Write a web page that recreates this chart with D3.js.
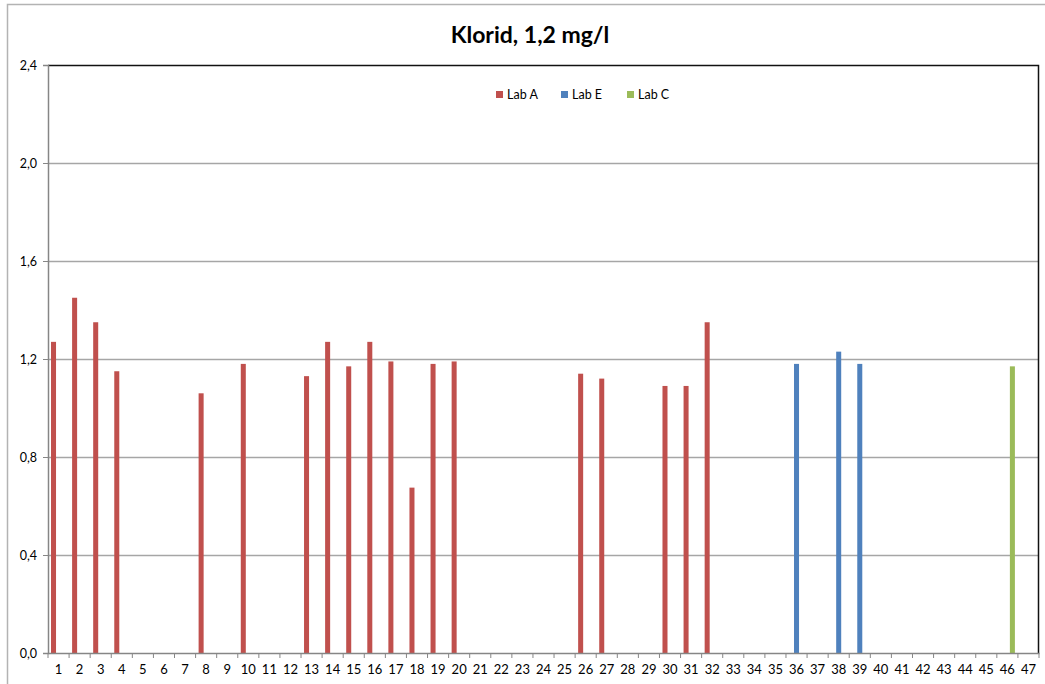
<!DOCTYPE html>
<html>
<head>
<meta charset="utf-8">
<script src="https://cdn.jsdelivr.net/npm/d3@7"></script>
<style>
  body { margin: 0; background: #fff; }
  text { font-family: Lato, "Open Sans", sans-serif; fill: #000; }
</style>
</head>
<body>
<script>
// categories 1..47, one value per lab (null = no bar)
var categories = ["1","2","3","4","5","6","7","8","9","10","11","12","13","14","15","16","17","18","19","20",
  "21","22","23","24","25","26","27","28","29","30","31","32","33","34","35","36","37","38","39","40",
  "41","42","43","44","45","46","47"];
var seriesNames = ["Lab A", "Lab E", "Lab C"];
var seriesColors = ["#C0504D", "#4F81BD", "#9BBB59"];

var labA = [1.27, 1.45, 1.35, 1.15, null, null, null, 1.06, null, 1.18, null, null, 1.13, 1.27, 1.17, 1.27, 1.19, 0.675, 1.18, 1.19,
  null, null, null, null, null, 1.14, 1.12, null, null, 1.09, 1.09, 1.35, null, null, null, null, null, null, null, null,
  null, null, null, null, null, null, null];
var labE = [null, null, null, null, null, null, null, null, null, null, null, null, null, null, null, null, null, null, null, null,
  null, null, null, null, null, null, null, null, null, null, null, null, null, null, null, 1.18, null, 1.23, 1.18, null,
  null, null, null, null, null, null, null];
var labC = [null, null, null, null, null, null, null, null, null, null, null, null, null, null, null, null, null, null, null, null,
  null, null, null, null, null, null, null, null, null, null, null, null, null, null, null, null, null, null, null, null,
  null, null, null, null, null, 1.17, null];
var yTicks = [0, 0.4, 0.8, 1.2, 1.6, 2.0, 2.4];

var width = 1045, height = 684;
var margin = {left: 48, right: 6, top: 65, bottom: 31};
var W = width - margin.left - margin.right,
    H = height - margin.top - margin.bottom;

var svg = d3.select("body").append("svg")
    .attr("width", width)
    .attr("height", height);

// outer chart border (only top/left visible in the picture)
svg.append("rect")
    .attr("x", 7.5).attr("y", 4.5)
    .attr("width", width + 20).attr("height", height + 20)
    .attr("fill", "none")
    .attr("stroke", "#b3b3b3")
    .attr("stroke-width", 1.5);

svg.append("text")
    .attr("x", 530).attr("y", 43)
    .attr("text-anchor", "middle")
    .style("font-size", "23px")
    .style("font-weight", "bold")
    .text("Klorid, 1,2 mg/l");

var g = svg.append("g").attr("transform", "translate(" + margin.left + "," + margin.top + ")");

var x = d3.scaleBand().domain(categories).range([0, W]).paddingInner(0).paddingOuter(0);
var xs = d3.scaleBand().domain(seriesNames).range([0, x.bandwidth()]).paddingInner(0).paddingOuter(0.6);
var y = d3.scaleLinear().domain([0, 2.4]).range([H, 0]);

// gridlines
g.selectAll(".grid")
    .data(yTicks.slice(1, -1))
    .enter().append("line")
    .attr("x1", 0).attr("x2", W)
    .attr("y1", function (d) { return Math.round(y(d)) + 0.5; })
    .attr("y2", function (d) { return Math.round(y(d)) + 0.5; })
    .attr("stroke", "#a6a6a6")
    .attr("stroke-width", 1.5);

// plot area frame top/right
g.append("path")
    .attr("d", "M0,0.5H" + (W - 0.5) + "V" + H)
    .attr("fill", "none")
    .attr("stroke", "#111")
    .attr("stroke-width", 1.5);

// bars
var seriesData = [labA, labE, labC];
seriesData.forEach(function (vals, si) {
    var rows = categories.map(function (c, i) { return {cat: c, v: vals[i]}; })
        .filter(function (d) { return d.v != null; });
    g.append("g").selectAll("rect")
        .data(rows)
        .enter().append("rect")
        .attr("x", function (d) { return x(d.cat) + xs(seriesNames[si]); })
        .attr("width", xs.bandwidth())
        .attr("y", function (d) { return y(d.v); })
        .attr("height", function (d) { return H - y(d.v); })
        .attr("fill", seriesColors[si]);
});

// y axis
var yAxis = g.append("g")
    .call(d3.axisLeft(y).tickValues(yTicks).tickSize(5).tickPadding(6)
        .tickFormat(function (d) { return d3.format(".1f")(d).replace(".", ","); }));
yAxis.select(".domain").attr("stroke", "#868686").attr("stroke-width", 1.5);
yAxis.selectAll(".tick line").attr("stroke", "#868686");
yAxis.selectAll("text").style("font-size", "12.5px").attr("font-family", null);

// x axis: ticks at category boundaries
var xAxis = g.append("g")
    .attr("transform", "translate(0," + H + ")")
    .call(d3.axisBottom(x).tickSize(0).tickPadding(12));
xAxis.select(".domain").attr("stroke", "#868686").attr("stroke-width", 1.5);
xAxis.selectAll("text").style("font-size", "13px").attr("font-family", null);
xAxis.selectAll(".bound")
    .data(categories.concat(["end"]))
    .enter().append("line")
    .attr("x1", function (d, i) { return i * x.step(); })
    .attr("x2", function (d, i) { return i * x.step(); })
    .attr("y1", 0).attr("y2", 5)
    .attr("stroke", "#868686");

// legend
var legendX = [496, 561, 627];
var legend = svg.append("g").selectAll("g")
    .data(seriesNames)
    .enter().append("g")
    .attr("transform", function (d, i) { return "translate(" + legendX[i] + ",91)"; });
legend.append("rect")
    .attr("width", 7).attr("height", 7)
    .attr("fill", function (d, i) { return seriesColors[i]; });
legend.append("text")
    .attr("x", 11).attr("y", 8)
    .style("font-size", "12.5px")
    .text(function (d) { return d; });
</script>
</body>
</html>
